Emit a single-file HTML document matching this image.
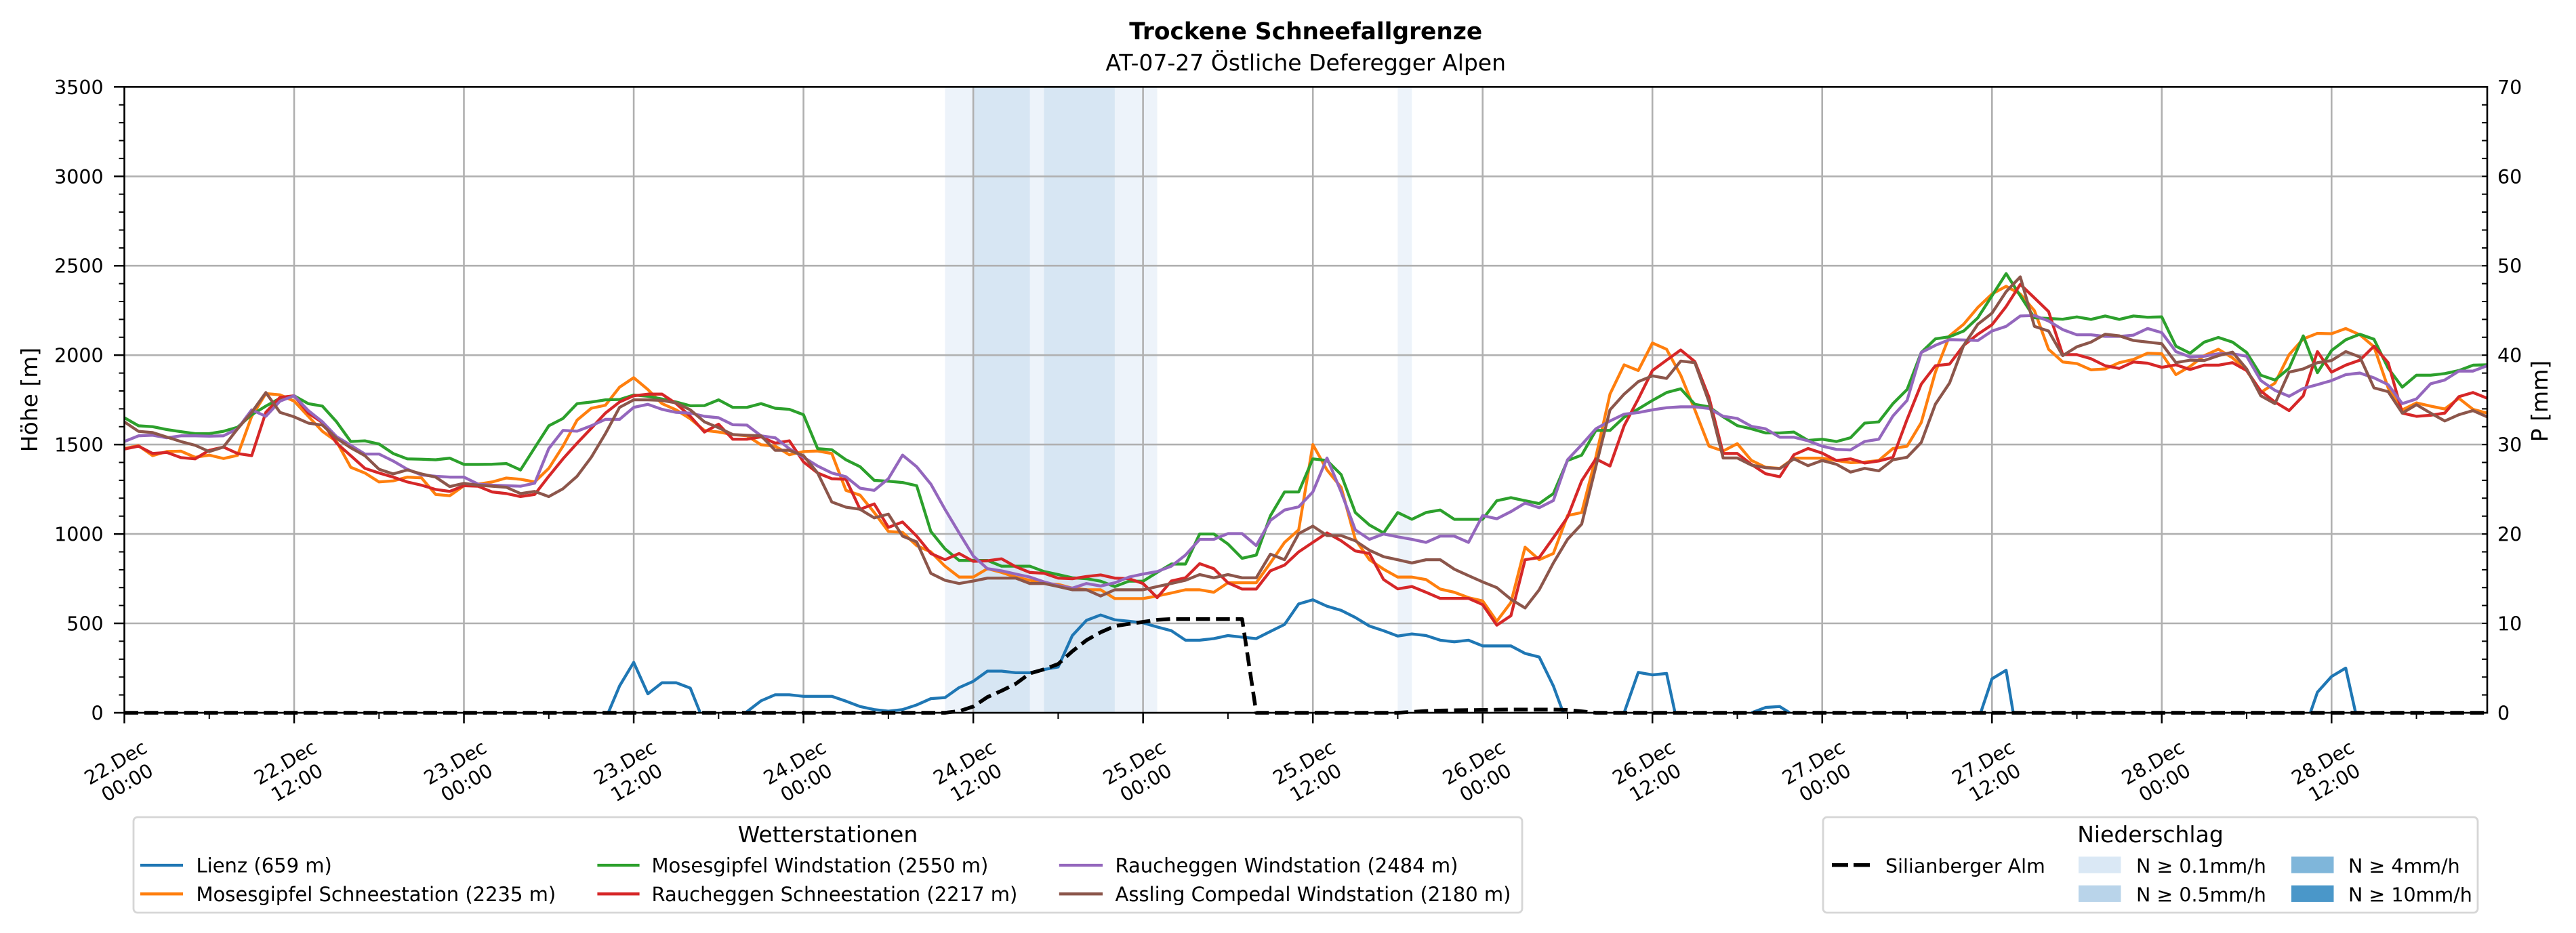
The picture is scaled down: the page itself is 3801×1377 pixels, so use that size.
<!DOCTYPE html>
<html><head><meta charset="utf-8">
<style>
html,body{margin:0;padding:0;background:#fff;}
svg{display:block;}
text{font-family:"DejaVu Sans","Liberation Sans",sans-serif;fill:#000;}
</style></head>
<body>
<svg width="3801" height="1377" viewBox="0 0 3801 1377" xmlns="http://www.w3.org/2000/svg">
<rect x="0" y="0" width="3801" height="1377" fill="#fff"/>

<!-- Titles -->
<text x="1926.7" y="58" font-size="34.4" font-weight="bold" text-anchor="middle">Trockene Schneefallgrenze</text>
<text x="1926.7" y="104" font-size="33" text-anchor="middle">AT-07-27 Östliche Deferegger Alpen</text>

<!-- Precipitation shading -->
<rect x="1394.4" y="128.3" width="313.1" height="923.7" fill="#edf3fa"/>
<rect x="1436.1" y="128.3" width="83.5" height="923.7" fill="#d7e6f3"/>
<rect x="1540.5" y="128.3" width="104.4" height="923.7" fill="#d7e6f3"/>
<rect x="2062.4" y="128.3" width="20.9" height="923.7" fill="#edf3fa"/>

<!-- Grid -->
<g stroke="#b0b0b0" stroke-width="2.6" fill="none">
<line x1="183.5" x2="3670" y1="920.0" y2="920.0"/>
<line x1="183.5" x2="3670" y1="788.1" y2="788.1"/>
<line x1="183.5" x2="3670" y1="656.1" y2="656.1"/>
<line x1="183.5" x2="3670" y1="524.2" y2="524.2"/>
<line x1="183.5" x2="3670" y1="392.2" y2="392.2"/>
<line x1="183.5" x2="3670" y1="260.3" y2="260.3"/>
<line x1="434.0" x2="434.0" y1="128.3" y2="1052"/>
<line x1="684.5" x2="684.5" y1="128.3" y2="1052"/>
<line x1="935.1" x2="935.1" y1="128.3" y2="1052"/>
<line x1="1185.6" x2="1185.6" y1="128.3" y2="1052"/>
<line x1="1436.1" x2="1436.1" y1="128.3" y2="1052"/>
<line x1="1686.6" x2="1686.6" y1="128.3" y2="1052"/>
<line x1="1937.2" x2="1937.2" y1="128.3" y2="1052"/>
<line x1="2187.7" x2="2187.7" y1="128.3" y2="1052"/>
<line x1="2438.2" x2="2438.2" y1="128.3" y2="1052"/>
<line x1="2688.7" x2="2688.7" y1="128.3" y2="1052"/>
<line x1="2939.3" x2="2939.3" y1="128.3" y2="1052"/>
<line x1="3189.8" x2="3189.8" y1="128.3" y2="1052"/>
<line x1="3440.3" x2="3440.3" y1="128.3" y2="1052"/>
</g>

<!-- Data series -->
<g transform="translate(183.5,1052) scale(20.877,-0.26391)" fill="none" stroke-linejoin="round" stroke-linecap="butt">
<g stroke="#1f77b4">
<polyline vector-effect="non-scaling-stroke" stroke-width="4.3" points="34.2,0 35,150 36,282 37,106 38,168 39,168 40,138 40.7,0"/>
<polyline vector-effect="non-scaling-stroke" stroke-width="4.3" points="43.9,0 45,67 46,101 47,101 48,92 49,92 50,92 51,65 52,35 53,18 54,9 55,18 56,44 57,79 58,85 59,141 60,176 61,233 62,233 63,224 64,224 65,242 66,256 67,432 68,517 69,547 70,520 71,512 72,503 73,480 74,459 75,406 76,406 77,415 78,432 79,423 80,415 81,455 82,494 83,609 84,632 85,596 86,573 87,533 88,485 89,459 90,429 91,441 92,432 93,406 94,397 95,406 96,374 97,374 98,374 99,332 100,312 101,150 101.7,0"/>
<polyline vector-effect="non-scaling-stroke" stroke-width="4.3" points="106,0 107,226 108,212 109,220 109.6,0"/>
<polyline vector-effect="non-scaling-stroke" stroke-width="4.3" points="115,0 116,30 117,35 117.7,0"/>
<polyline vector-effect="non-scaling-stroke" stroke-width="4.3" points="131.2,0 132,190 133,238 133.5,0"/>
<polyline vector-effect="non-scaling-stroke" stroke-width="4.3" points="154.5,0 155,115 156,203 157,250 157.7,0"/>
</g>
<polyline vector-effect="non-scaling-stroke" stroke="#ff7f0e" stroke-width="4.3" points="0,1478 1,1494 2,1438 3,1461 4,1463 5,1429 6,1441 7,1422 8,1440 9,1658 10,1785 11,1778 12,1743 13,1658 14,1574 15,1517 16,1373 17,1341 18,1291 19,1297 20,1318 21,1314 22,1221 23,1214 24,1270 25,1279 26,1291 27,1313 28,1306 29,1291 30,1367 31,1491 32,1637 33,1703 34,1720 35,1821 36,1874 37,1808 38,1729 39,1694 40,1644 41,1579 42,1570 43,1556 44,1549 45,1499 46,1491 47,1443 48,1461 49,1464 50,1450 51,1244 52,1217 53,1120 54,1014 55,1009 56,935 57,900 58,820 59,759 60,759 61,806 62,785 63,759 64,741 65,723 66,718 67,697 68,688 69,688 70,639 71,639 72,639 73,653 74,670 75,688 76,688 77,674 78,727 79,727 80,727 81,838 82,953 83,1023 84,1500 85,1358 86,1261 87,970 88,856 89,803 90,759 91,759 92,745 93,692 94,674 95,644 96,626 97,512 98,617 99,926 100,856 101,891 102,1103 103,1120 104,1429 105,1782 106,1946 107,1914 108,2068 109,2033 110,1888 111,1694 112,1491 113,1464 114,1505 115,1411 116,1373 117,1367 118,1424 119,1424 120,1424 121,1411 122,1399 123,1402 124,1411 125,1478 126,1491 127,1623 128,1905 129,2108 130,2173 131,2267 132,2342 133,2385 134,2342 135,2249 136,2033 137,1962 138,1953 139,1918 140,1923 141,1958 142,1976 143,2011 144,2008 145,1891 146,1937 147,1997 148,2033 149,1985 150,1914 151,1791 152,1844 153,2003 154,2091 155,2122 156,2120 157,2149 158,2114 159,2047 160,1817 161,1694 162,1733 163,1715 164,1699 165,1759 166,1697 167,1676"/>
<polyline vector-effect="non-scaling-stroke" stroke="#2ca02c" stroke-width="4.3" points="0,1650 1,1605 2,1600 3,1584 4,1572 5,1561 6,1561 7,1574 8,1597 9,1667 10,1715 11,1759 12,1773 13,1729 14,1715 15,1627 16,1517 17,1521 18,1503 19,1450 20,1420 21,1418 22,1415 23,1424 24,1389 25,1389 26,1390 27,1394 28,1358 29,1482 30,1605 31,1646 32,1729 33,1738 34,1750 35,1752 36,1777 37,1770 38,1755 39,1738 40,1717 41,1718 42,1750 43,1708 44,1708 45,1729 46,1703 47,1697 48,1667 49,1477 50,1471 51,1415 52,1376 53,1300 54,1295 55,1288 56,1270 57,1014 58,917 59,852 60,852 61,852 62,820 63,820 64,820 65,790 66,773 67,755 68,750 69,736 70,706 71,736 72,736 73,785 74,832 75,832 76,1000 77,1000 78,944 79,864 80,882 81,1102 82,1235 83,1235 84,1420 85,1411 86,1332 87,1120 88,1050 89,1006 90,1120 91,1082 92,1120 93,1134 94,1082 95,1082 96,1082 97,1186 98,1203 99,1186 100,1170 101,1226 102,1411 103,1441 104,1579 105,1579 106,1653 107,1699 108,1747 109,1791 110,1812 111,1725 112,1711 113,1655 114,1606 115,1588 116,1565 117,1565 118,1570 119,1523 120,1530 121,1517 122,1538 123,1620 124,1627 125,1729 126,1808 127,2015 128,2091 129,2103 130,2135 131,2209 132,2332 133,2456 134,2332 135,2209 136,2205 137,2201 138,2214 139,2200 140,2219 141,2200 142,2219 143,2212 144,2214 145,2050 146,2011 147,2073 148,2099 149,2073 150,2015 151,1888 152,1861 153,1927 154,2108 155,1902 156,2026 157,2086 158,2117 159,2089 160,1927 161,1821 162,1888 163,1888 164,1897 165,1914 166,1944 167,1946"/>
<polyline vector-effect="non-scaling-stroke" stroke="#d62728" stroke-width="4.3" points="0,1475 1,1491 2,1450 3,1456 4,1427 5,1420 6,1468 7,1486 8,1450 9,1438 10,1680 11,1764 12,1773 13,1676 14,1623 15,1508 16,1438 17,1367 18,1341 19,1318 20,1291 21,1273 22,1249 23,1238 24,1270 25,1267 26,1235 27,1226 28,1209 29,1221 30,1323 31,1420 32,1508 33,1591 34,1676 35,1738 36,1773 37,1782 38,1782 39,1729 40,1658 41,1570 42,1614 43,1530 44,1530 45,1543 46,1508 47,1521 48,1403 49,1341 50,1309 51,1306 52,1138 53,1168 54,1037 55,1067 56,988 57,891 58,856 59,891 60,847 61,850 62,861 63,817 64,785 65,780 66,753 67,750 68,762 69,771 70,753 71,750 72,723 73,644 74,737 75,755 76,834 77,806 78,727 79,692 80,692 81,794 82,826 83,900 84,953 85,1006 86,962 87,905 88,891 89,745 90,693 91,706 92,674 93,640 94,640 95,640 96,605 97,490 98,543 99,856 100,868 101,979 102,1094 103,1297 104,1420 105,1380 106,1605 107,1755 108,1914 109,1972 110,2029 111,1964 112,1764 113,1450 114,1450 115,1389 116,1337 117,1320 118,1443 119,1478 120,1452 121,1411 122,1420 123,1397 124,1408 125,1429 126,1641 127,1838 128,1941 129,1950 130,2055 131,2117 132,2170 133,2272 134,2396 135,2320 136,2244 137,2003 138,2003 139,1980 140,1941 141,1926 142,1962 143,1955 144,1932 145,1946 146,1920 147,1944 148,1944 149,1958 150,1914 151,1799 152,1738 153,1690 154,1773 155,2020 156,1905 157,1944 158,1972 159,2050 160,1958 161,1676 162,1658 163,1664 164,1676 165,1768 166,1791 167,1759"/>
<polyline vector-effect="non-scaling-stroke" stroke="#9467bd" stroke-width="4.3" points="0,1517 1,1549 2,1552 3,1538 4,1549 5,1549 6,1547 7,1549 8,1588 9,1694 10,1658 11,1743 12,1773 13,1690 14,1627 15,1544 16,1496 17,1447 18,1447 19,1408 20,1362 21,1330 22,1323 23,1318 24,1318 25,1279 26,1273 27,1270 28,1267 29,1284 30,1478 31,1579 32,1575 33,1605 34,1641 35,1641 36,1708 37,1725 38,1697 39,1680 40,1676 41,1658 42,1650 43,1611 44,1609 45,1549 46,1538 47,1477 48,1429 49,1380 50,1341 51,1320 52,1256 53,1244 54,1309 55,1441 56,1376 57,1279 58,1138 59,1006 60,877 61,806 62,794 63,776 64,759 65,732 66,711 67,697 68,723 69,709 70,727 71,759 72,776 73,790 74,820 75,882 76,970 77,970 78,1002 79,1002 80,935 81,1076 82,1134 83,1152 84,1235 85,1425 86,1235 87,1023 88,970 89,1000 90,984 91,970 92,953 93,988 94,988 95,953 96,1103 97,1085 98,1125 99,1173 100,1147 101,1187 102,1415 103,1499 104,1588 105,1632 106,1670 107,1679 108,1694 109,1706 110,1711 111,1711 112,1702 113,1658 114,1646 115,1602 116,1588 117,1541 118,1541 119,1521 120,1491 121,1473 122,1470 123,1517 124,1530 125,1660 126,1747 127,2015 128,2055 129,2087 130,2085 131,2082 132,2135 133,2161 134,2219 135,2222 136,2191 137,2143 138,2114 139,2114 140,2105 141,2105 142,2112 143,2149 144,2126 145,2020 146,1990 147,1994 148,2008 149,2008 150,1994 151,1858 152,1803 153,1770 154,1814 155,1835 156,1858 157,1891 158,1900 159,1873 160,1835 161,1729 162,1755 163,1840 164,1861 165,1911 166,1911 167,1941"/>
<polyline vector-effect="non-scaling-stroke" stroke="#8c564b" stroke-width="4.3" points="0,1627 1,1574 2,1567 3,1542 4,1517 5,1496 6,1461 7,1486 8,1588 9,1680 10,1791 11,1680 12,1655 13,1620 14,1609 15,1535 16,1482 17,1438 18,1362 19,1336 20,1358 21,1336 22,1318 23,1265 24,1283 25,1273 26,1267 27,1261 28,1226 29,1238 30,1209 31,1253 32,1323 33,1429 34,1561 35,1708 36,1750 37,1750 38,1747 39,1733 40,1694 41,1627 42,1594 43,1556 44,1552 45,1549 46,1468 47,1468 48,1438 49,1341 50,1179 51,1150 52,1138 53,1090 54,1111 55,988 56,956 57,780 58,741 59,723 60,737 61,753 62,753 63,753 64,723 65,723 66,706 67,688 68,688 69,653 70,688 71,688 72,688 73,706 74,723 75,741 76,773 77,755 78,773 79,755 80,755 81,887 82,856 83,1002 84,1044 85,991 86,991 87,962 88,909 89,873 90,856 91,838 92,856 93,856 94,803 95,767 96,732 97,700 98,635 99,586 100,688 101,838 102,970 103,1055 104,1376 105,1694 106,1782 107,1852 108,1884 109,1870 110,1967 111,1958 112,1738 113,1425 114,1425 115,1385 116,1371 117,1365 118,1420 119,1382 120,1411 121,1390 122,1346 123,1367 124,1353 125,1415 126,1429 127,1512 128,1726 129,1844 130,2055 131,2173 132,2235 133,2355 134,2438 135,2161 136,2135 137,1997 138,2047 139,2073 140,2117 141,2108 142,2082 143,2073 144,2064 145,1958 146,1972 147,1970 148,1997 149,2017 150,1923 151,1773 152,1729 153,1905 154,1923 155,1958 156,1970 157,2020 158,1990 159,1817 160,1796 161,1676 162,1723 163,1676 164,1632 165,1667 166,1690 167,1655"/>
</g>

<!-- Spines -->
<rect x="183.5" y="128.3" width="3486.5" height="923.7" fill="none" stroke="#000" stroke-width="2.6"/>

<!-- Ticks -->
<g stroke="#000" fill="none">
<line x1="179.5" y1="1053" x2="179.5" y2="127" stroke-width="8" stroke-dasharray="2 24.391"/>
<line x1="175.75" y1="1053.25" x2="175.75" y2="126" stroke-width="15.5" stroke-dasharray="2.5 129.457"/>
<line x1="3666" y1="1053" x2="3666" y2="127" stroke-width="8" stroke-dasharray="2 24.391"/>
<line x1="182.5" y1="1056.5" x2="3672" y2="1056.5" stroke-width="9" stroke-dasharray="2 123.262"/>
<line x1="182.25" y1="1059.75" x2="3672" y2="1059.75" stroke-width="15.5" stroke-dasharray="2.5 248.024"/>
</g>

<!-- Silianberger Alm dashed -->
<polyline fill="none" stroke="#000" stroke-width="5.5" stroke-dasharray="20.5 8.9" stroke-linejoin="round"
points="183.5,1052 1394.4,1052 1415.2,1049.6 1436.1,1042.8 1457.0,1028.8 1477.9,1019.5 1498.8,1009.2 1519.6,993.9 1540.5,987.9 1561.4,980.0 1582.3,961.2 1603.1,944.9 1624.0,933.2 1644.9,924.0 1665.8,920.8 1686.6,917.9 1707.5,914.8 1728.4,913.7 1832.8,913.7 1853.7,1052 2062.4,1052 2083.3,1050.7 2104.2,1049.4 2125.1,1048.8 2145.9,1048.3 2187.7,1047.8 2229.4,1047.2 2292.1,1047.2 2312.9,1047.8 2333.8,1049.9 2354.7,1052 3670,1052"/>

<!-- Left tick labels -->
<g font-size="28.5" text-anchor="end">
<text x="152.7" y="1062.5">0</text>
<text x="152.7" y="930.5">500</text>
<text x="152.7" y="798.6">1000</text>
<text x="152.7" y="666.6">1500</text>
<text x="152.7" y="534.7">2000</text>
<text x="152.7" y="402.7">2500</text>
<text x="152.7" y="270.8">3000</text>
<text x="152.7" y="138.8">3500</text>
</g>
<!-- Right tick labels -->
<g font-size="28.5" text-anchor="start">
<text x="3685" y="1062.5">0</text>
<text x="3685" y="930.5">10</text>
<text x="3685" y="798.6">20</text>
<text x="3685" y="666.6">30</text>
<text x="3685" y="534.7">40</text>
<text x="3685" y="402.7">50</text>
<text x="3685" y="270.8">60</text>
<text x="3685" y="138.8">70</text>
</g>

<!-- Axis labels -->
<text transform="translate(55,590) rotate(-90)" font-size="33" text-anchor="middle">Höhe [m]</text>
<text transform="translate(3759,592) rotate(-90)" font-size="33" text-anchor="middle">P [mm]</text>

<!-- X tick labels -->
<g font-size="28.5" text-anchor="middle">
<g transform="translate(175.5,1134) rotate(-30)"><text x="0" y="0">22.Dec</text><text x="0" y="34.2">00:00</text></g>
<g transform="translate(426.0,1134) rotate(-30)"><text x="0" y="0">22.Dec</text><text x="0" y="34.2">12:00</text></g>
<g transform="translate(676.5,1134) rotate(-30)"><text x="0" y="0">23.Dec</text><text x="0" y="34.2">00:00</text></g>
<g transform="translate(927.1,1134) rotate(-30)"><text x="0" y="0">23.Dec</text><text x="0" y="34.2">12:00</text></g>
<g transform="translate(1177.6,1134) rotate(-30)"><text x="0" y="0">24.Dec</text><text x="0" y="34.2">00:00</text></g>
<g transform="translate(1428.1,1134) rotate(-30)"><text x="0" y="0">24.Dec</text><text x="0" y="34.2">12:00</text></g>
<g transform="translate(1678.6,1134) rotate(-30)"><text x="0" y="0">25.Dec</text><text x="0" y="34.2">00:00</text></g>
<g transform="translate(1929.2,1134) rotate(-30)"><text x="0" y="0">25.Dec</text><text x="0" y="34.2">12:00</text></g>
<g transform="translate(2179.7,1134) rotate(-30)"><text x="0" y="0">26.Dec</text><text x="0" y="34.2">00:00</text></g>
<g transform="translate(2430.2,1134) rotate(-30)"><text x="0" y="0">26.Dec</text><text x="0" y="34.2">12:00</text></g>
<g transform="translate(2680.7,1134) rotate(-30)"><text x="0" y="0">27.Dec</text><text x="0" y="34.2">00:00</text></g>
<g transform="translate(2931.3,1134) rotate(-30)"><text x="0" y="0">27.Dec</text><text x="0" y="34.2">12:00</text></g>
<g transform="translate(3181.8,1134) rotate(-30)"><text x="0" y="0">28.Dec</text><text x="0" y="34.2">00:00</text></g>
<g transform="translate(3432.3,1134) rotate(-30)"><text x="0" y="0">28.Dec</text><text x="0" y="34.2">12:00</text></g>
</g>

<!-- Legend 1 -->
<rect x="197" y="1206" width="2049" height="141" rx="6" ry="6" fill="#fff" stroke="#d6d6d6" stroke-width="2.8"/>
<text x="1221.5" y="1243" font-size="33" text-anchor="middle">Wetterstationen</text>
<g stroke-width="4.3">
<line x1="207" x2="270" y1="1277" y2="1277" stroke="#1f77b4"/>
<line x1="207" x2="270" y1="1319.3" y2="1319.3" stroke="#ff7f0e"/>
<line x1="881.4" x2="943.6" y1="1277" y2="1277" stroke="#2ca02c"/>
<line x1="881.4" x2="943.6" y1="1319.3" y2="1319.3" stroke="#d62728"/>
<line x1="1562.8" x2="1627" y1="1277" y2="1277" stroke="#9467bd"/>
<line x1="1562.8" x2="1627" y1="1319.3" y2="1319.3" stroke="#8c564b"/>
</g>
<g font-size="29">
<text x="289.5" y="1287.5">Lienz (659 m)</text>
<text x="289.5" y="1329.8">Mosesgipfel Schneestation (2235 m)</text>
<text x="961.5" y="1287.5">Mosesgipfel Windstation (2550 m)</text>
<text x="961.5" y="1329.8">Raucheggen Schneestation (2217 m)</text>
<text x="1645.5" y="1287.5">Raucheggen Windstation (2484 m)</text>
<text x="1645.5" y="1329.8">Assling Compedal Windstation (2180 m)</text>
</g>

<!-- Legend 2 -->
<rect x="2690" y="1206" width="966" height="141" rx="6" ry="6" fill="#fff" stroke="#d6d6d6" stroke-width="2.8"/>
<text x="3173" y="1243" font-size="33" text-anchor="middle">Niederschlag</text>
<line x1="2703" x2="2760" y1="1276.7" y2="1276.7" stroke="#000" stroke-width="5.5" stroke-dasharray="24 8"/>
<rect x="3067" y="1264.3" width="62.5" height="24.4" fill="#dae8f5"/>
<rect x="3067" y="1306.7" width="62.5" height="24.4" fill="#b9d4ea"/>
<rect x="3381" y="1264.3" width="62.5" height="24.4" fill="#7fb6da"/>
<rect x="3381" y="1306.7" width="62.5" height="24.4" fill="#4a97c9"/>
<g font-size="28.5">
<text x="2782" y="1288">Silianberger Alm</text>
<text x="3152" y="1288">N ≥ 0.1mm/h</text>
<text x="3152" y="1330.5">N ≥ 0.5mm/h</text>
<text x="3465" y="1288">N ≥ 4mm/h</text>
<text x="3465" y="1330.5">N ≥ 10mm/h</text>
</g>
</svg>
</body></html>
